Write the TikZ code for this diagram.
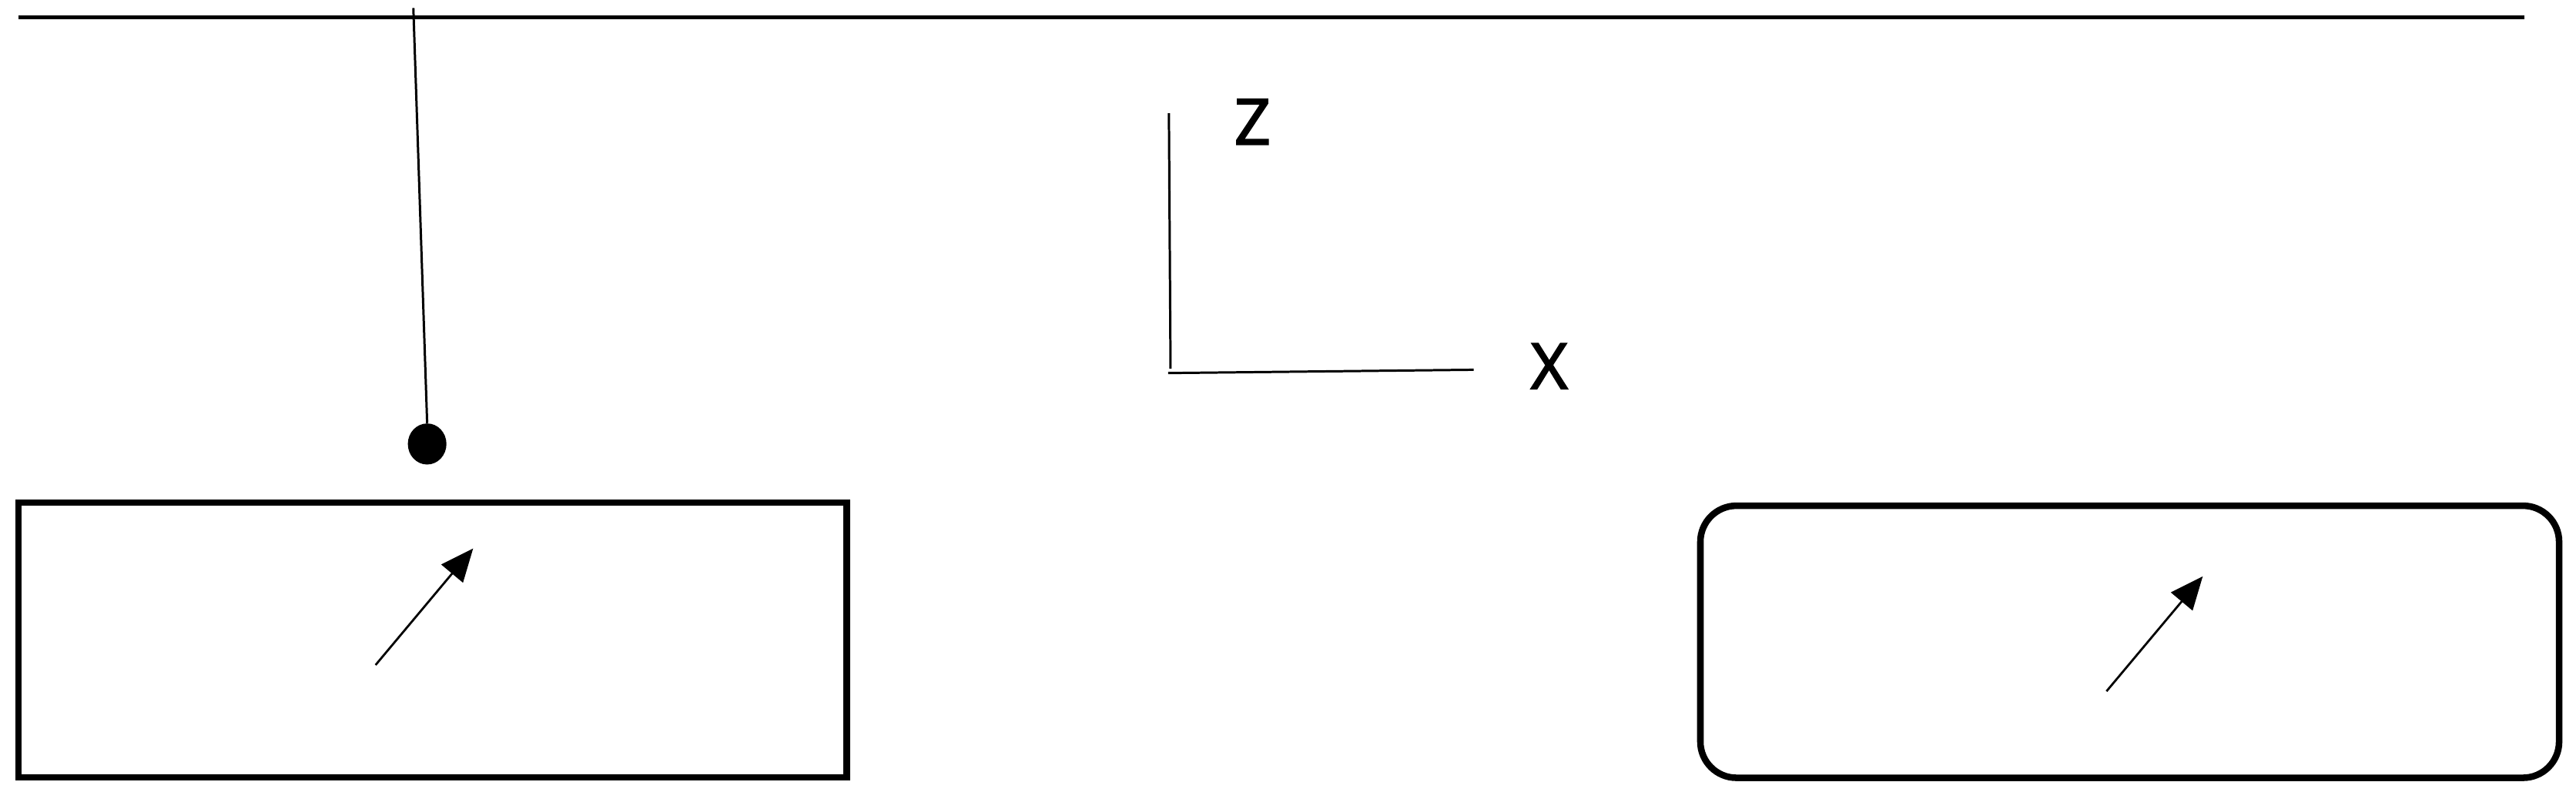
\documentclass[tikz,border=0pt]{standalone}
\usepackage{fontspec}
\setmainfont{Noto Sans}
\newfontfamily\lblfont[FakeBold=2]{Noto Sans}
\usetikzlibrary{arrows.meta,shapes.geometric}
\begin{document}
\begin{tikzpicture}[x=1pt,y=-1pt,
  ceiling/.style={draw=black, line width=2.4pt},
  thinline/.style={draw=black, line width=1.4pt},
  boxframe/.style={draw=black, line width=4pt, inner sep=0pt, outer sep=0pt},
  vecarrow/.style={draw=black, line width=1.3pt, -{Triangle[length=20pt,width=17pt]}},
  axislabel/.style={font=\lblfont\fontsize{38.7}{40}\selectfont, anchor=base, inner sep=0pt}]
\useasboundingbox (0,0) rectangle (1568,488);

% ceiling line
\coordinate (ceilL) at (11.2,10.6);
\coordinate (ceilR) at (1536.6,10.6);
\draw[ceiling] (ceilL) -- (ceilR);

% pendulum
\coordinate (pivot) at (251.6,4.9);
\node[ellipse, fill=black, draw=none, minimum width=23.5pt, minimum height=25pt, inner sep=0pt] (bob) at (260,270.4) {};
\draw[thinline] (pivot) -- (bob.north);

% boxes
\node[boxframe, rectangle, minimum width=504.2pt, minimum height=167.4pt] (leftbox) at (263.3,389.7) {};
\node[boxframe, rectangle, rounded corners=22pt, minimum width=522.7pt, minimum height=165.7pt] (rightbox) at (1296.35,390.85) {};

% vectors in the boxes
\coordinate (lefttail) at (228.6,405);
\coordinate (lefttip) at (288,334);
\draw[vecarrow] (lefttail) -- (lefttip);
\coordinate (righttail) at (1282.2,421);
\coordinate (righttip) at (1340.8,351);
\draw[vecarrow] (righttail) -- (righttip);

% axes
\coordinate (ztop) at (711.5,69);
\coordinate (zbot) at (712.5,224.5);
\coordinate (xstart) at (711,227.2);
\coordinate (xend) at (897,225.2);
\draw[thinline] (ztop) -- (zbot);
\draw[thinline] (xstart) -- (xend);
\node[axislabel] (zlabel) at (762.4,88) {Z};
\node[axislabel] (xlabel) at (943,236.8) {X};
\end{tikzpicture}
\end{document}
